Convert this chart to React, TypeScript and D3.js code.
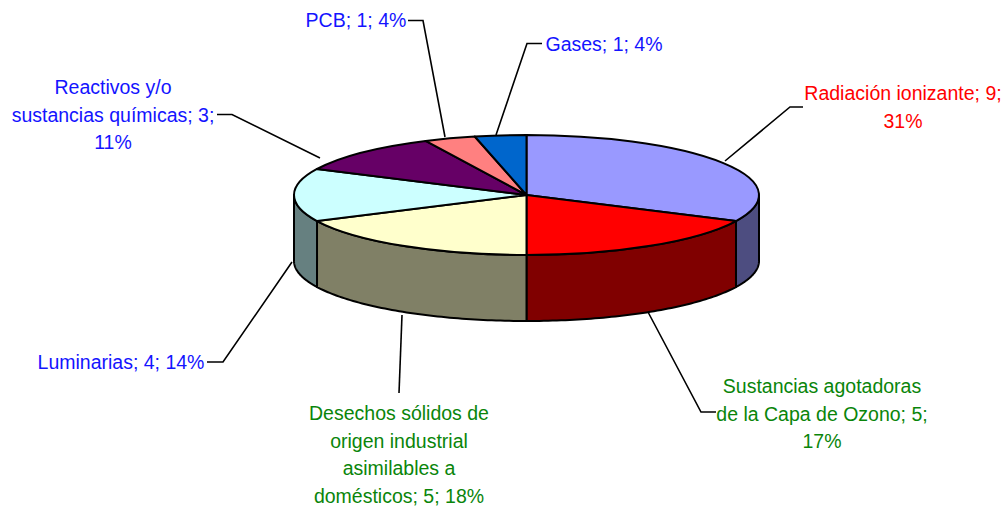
import React from "react";
import * as d3 from "d3";

const categories = ["Radiación ionizante", "Sustancias agotadoras de la Capa de Ozono", "Desechos sólidos de origen industrial asimilables a domésticos", "Luminarias", "Reactivos y/o sustancias químicas", "PCB", "Gases"];
const values = [9, 5, 5, 4, 3, 1, 1];
const topColors = ["#9999FF", "#FF0000", "#FFFFCC", "#CCFFFF", "#660066", "#FF8080", "#0066CC"];
const sideColors = ["#4D4D80", "#800000", "#808066", "#668080", "#330033", "#804040", "#003366"];

const labelLines = [
  ["Radiación ionizante; 9;", "31%"],
  ["Sustancias agotadoras", "de la Capa de Ozono; 5;", "17%"],
  ["Desechos sólidos de", "origen industrial", "asimilables a", "domésticos; 5; 18%"],
  ["Luminarias; 4; 14%"],
  ["Reactivos y/o", "sustancias químicas; 3;", "11%"],
  ["PCB; 1; 4%"],
  ["Gases; 1; 4%"],
];
const labelColors = ["#FF0000", "#0A850A", "#0A850A", "#1414FF", "#1414FF", "#1414FF", "#1414FF"];
const labelX = [903, 822, 399, 121, 113, 356, 604];
const labelY = [100, 393, 420, 368.5, 94, 27, 51];
const leaders = [
  "M725,161L790,107L803,107",
  "M648,312L701,412L716,412",
  "M402,315L399,393",
  "M292,262L223,362L207,362",
  "M320,158L232,114.5L217,114.5",
  "M445,137L423,20.5L408,20.5",
  "M496,135L527,43.5L542,43.5",
];

const W = 1005, H = 506;
const cx = 526.5, cy = 195, rx = 232.5, ry = 60, depth = 66;

const x = (a: number) => cx + rx * Math.sin(a);
const y = (a: number) => cy - ry * Math.cos(a);

function sidePath(a0: number, a1: number) {
  const s = Math.max(a0, Math.PI / 2), e = Math.min(a1, (3 * Math.PI) / 2);
  if (s >= e) return null;
  const p = d3.path();
  const n = 60;
  const pts = d3.range(n + 1).map((i) => s + ((e - s) * i) / n);
  pts.forEach((a, i) => (i ? p.lineTo(x(a), y(a)) : p.moveTo(x(a), y(a))));
  pts.slice().reverse().forEach((a) => p.lineTo(x(a), y(a) + depth));
  p.closePath();
  return p.toString();
}

export default function App() {
  const arcs = d3.pie<number>().sort(null)(values);
  const arc = d3.arc<d3.PieArcDatum<number>>().innerRadius(0).outerRadius(rx);
  const stroke = { stroke: "#000", strokeWidth: 2, strokeLinejoin: "round" as const };
  return (
    <svg width={W} height={H} style={{ position: "absolute", left: 0, top: 0, background: "#fff" }} fontFamily="Liberation Sans, Arial, sans-serif">
      {arcs.map((d, i) => {
        const path = sidePath(d.startAngle, d.endAngle);
        return path ? <path key={i} d={path} fill={sideColors[i]} {...stroke} /> : null;
      })}
      <g transform={`translate(${cx},${cy}) scale(1,${ry / rx})`}>
        {arcs.map((d, i) => (
          <path key={categories[i]} d={arc(d) as string} fill={topColors[i]} {...stroke} vectorEffect="non-scaling-stroke" />
        ))}
      </g>
      {leaders.map((d, i) => (
        <path key={i} d={d} fill="none" stroke="#000" strokeWidth={1.6} />
      ))}
      {labelLines.map((lines, i) => (
        <text key={i} textAnchor="middle" fontSize={19.5} fill={labelColors[i]}>
          {lines.map((t, j) => (
            <tspan key={j} x={labelX[i]} y={labelY[i] + j * 27.6}>{t}</tspan>
          ))}
        </text>
      ))}
    </svg>
  );
}
